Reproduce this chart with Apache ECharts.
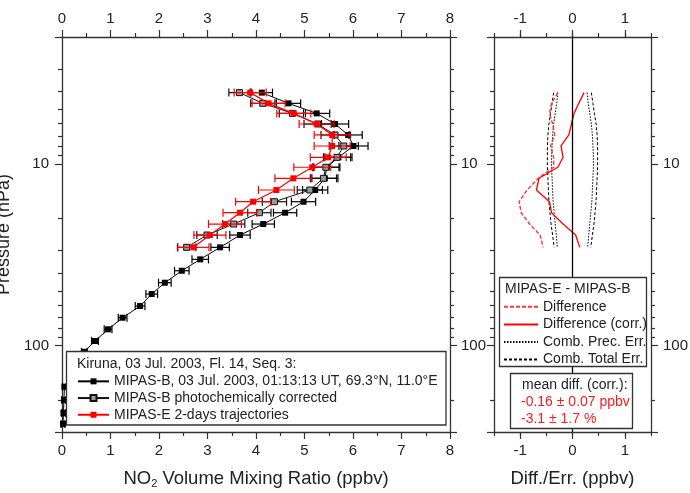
<!DOCTYPE html>
<html><head><meta charset="utf-8">
<script src="https://cdn.jsdelivr.net/npm/echarts@6/dist/echarts.min.js"></script>
<style>html,body{margin:0;padding:0;background:#fff}#c{width:690px;height:493px}</style>
</head><body><div id="c"></div>
<script>
// ---------- data ----------
// MIPAS-B levels (hPa) and NO2 VMR (ppbv)
const pressB = [4.05,4.64,5.27,6.03,6.93,7.97,9.20,10.44,12.01,13.93,16.16,18.58,21.45,24.66,28.83,33.57,38.79,45.15,52.12,60.69,70.41,81.55,94.6,108.4,125.1,145.7,168.9,200,235.9,271.2];
const vmrB   = [4.12,4.67,5.25,5.63,5.90,6.01,5.70,5.46,5.42,5.22,4.98,4.60,4.15,3.67,3.26,2.85,2.47,2.12,1.85,1.61,1.25,0.95,0.68,0.46,0.30,0.18,0.05,0.04,0.03,0.02];
const errB   = [0.22,0.25,0.27,0.28,0.29,0.30,0.28,0.27,0.27,0.26,0.25,0.24,0.23,0.21,0.19,0.17,0.15,0.13,0.12,0.10,0.09,0.08,0.07,0.06,0.05,0.05,0.04,0.04,0.04,0.04];
// common levels of corrected MIPAS-B / MIPAS-E (hPa)
const pressE = [4.05,4.64,5.27,6.03,6.93,7.97,9.20,10.44,12.01,13.93,16.16,18.58,21.45,24.66,28.83];
const vmrC   = [3.66,4.14,4.75,5.27,5.63,5.81,5.67,5.44,5.39,5.11,4.38,4.07,3.54,2.99,2.57];
const errC   = [0.22,0.25,0.27,0.28,0.29,0.30,0.28,0.27,0.27,0.26,0.25,0.24,0.23,0.21,0.19];
const vmrE   = [3.88,4.26,4.78,5.25,5.57,5.57,5.49,5.16,4.77,4.42,3.94,3.67,3.36,3.05,2.71];
const errE   = [0.33,0.34,0.35,0.36,0.37,0.37,0.37,0.38,0.38,0.37,0.36,0.35,0.34,0.33,0.32];
// right panel (ppbv)
const diffUnc  = [-0.28,-0.40,-0.44,-0.38,-0.34,-0.42,-0.36,-0.36,-0.65,-0.87,-1.02,-0.98,-0.82,-0.62,-0.56];
const diffCorr = [0.22,0.12,0.03,-0.02,-0.07,-0.22,-0.18,-0.28,-0.64,-0.69,-0.44,-0.40,-0.18,0.06,0.14];
const precErr  = [0.28,0.30,0.33,0.36,0.38,0.39,0.40,0.40,0.39,0.38,0.37,0.35,0.33,0.31,0.29];
const totErr   = [0.36,0.39,0.42,0.45,0.47,0.48,0.48,0.48,0.47,0.46,0.45,0.43,0.41,0.38,0.35];
// ticks
const yMajorLabels = [10, 100];
const yMinorTicks = [3,4,5,6,7,8,9,20,30,40,50,60,70,80,90,200];
const xDiffLabels = [-1, 0, 1];
const names = {
  B: 'MIPAS-B, 03 Jul. 2003, 01:13:13 UT, 69.3°N, 11.0°E',
  C: 'MIPAS-B photochemically corrected',
  E: 'MIPAS-E 2-days trajectories',
  d: 'Difference', dc: 'Difference (corr.)', pe: 'Comb. Prec. Err.', te: 'Comb. Total Err.'
};

// ---------- chart ----------
const FONT = 'Liberation Sans, Arial, sans-serif';
const AX = '#333';
const chart = echarts.init(document.getElementById('c'), null, {renderer: 'canvas'});

const pair = (xs, ps) => xs.map((v, i) => [v, ps[i]]);
const neg = a => a.map(v => -v);

function errSeries(vals, press, errs, color, z) {
  return {
    type: 'custom', xAxisIndex: 0, yAxisIndex: 0, silent: true, z: z, clip: false,
    data: vals.map((v, i) => [v, press[i], errs[i]]),
    encode: {x: 0, y: 1},
    renderItem: function (params, api) {
      const x = api.value(0), p = api.value(1), e = api.value(2);
      const a = api.coord([x - e, p]), b = api.coord([x + e, p]);
      const h = 4, st = {stroke: color, lineWidth: 1.2};
      return {type: 'group', children: [
        {type: 'line', shape: {x1: a[0], y1: a[1], x2: b[0], y2: b[1]}, style: st},
        {type: 'line', shape: {x1: a[0], y1: a[1] - h, x2: a[0], y2: a[1] + h}, style: st},
        {type: 'line', shape: {x1: b[0], y1: b[1] - h, x2: b[0], y2: b[1] + h}, style: st}
      ]};
    }
  };
}

const lbl = {fontFamily: FONT, fontSize: 15, color: '#222'};
const axLine = {show: true, onZero: false, lineStyle: {color: AX, width: 1.3}};
const noLine = {show: false, onZero: false};
const tickMaj = {show: true, length: 7, lineStyle: {color: AX, width: 1.2}};
const tickMin = {show: true, length: 4, lineStyle: {color: AX, width: 1.2}};
const logMin = Math.log10(2), logMax = Math.log10(300);

function xLeft(pos, extra) {
  return Object.assign({
    type: 'value', gridIndex: 0, position: pos, min: 0, max: 8, interval: 1,
    axisLine: axLine, axisTick: tickMaj,
    minorTick: {show: true, splitNumber: 2, length: 4, lineStyle: {color: AX, width: 1.2}},
    splitLine: {show: false},
    axisLabel: Object.assign({margin: 11}, lbl)
  }, extra || {});
}
function xRight(pos, extra) {
  return Object.assign({
    type: 'value', gridIndex: 1, position: pos, min: -1.5, max: 1.5, interval: 0.5,
    axisLine: axLine, axisTick: tickMin, splitLine: {show: false},
    axisLabel: Object.assign({margin: 11, formatter: v => xDiffLabels.indexOf(v) >= 0 ? String(v) : ''}, lbl)
  }, extra || {});
}
function xRightMaj(pos) {
  return {type: 'value', gridIndex: 1, position: pos, min: -1.5, max: 1.5,
    axisLine: noLine, splitLine: {show: false}, axisLabel: {show: false},
    axisTick: Object.assign({customValues: xDiffLabels}, tickMaj)};
}
function yLog(grid, pos, showLabel, margin, extra) {
  return Object.assign({
    type: 'log', logBase: 10, gridIndex: grid, position: pos, min: 2, max: 300, inverse: true,
    axisLine: axLine, axisTick: tickMaj, splitLine: {show: false}, minorTick: {show: false},
    axisLabel: Object.assign({show: showLabel, margin: margin,
      formatter: v => yMajorLabels.some(t => Math.abs(t - v) < 1e-6) ? String(v) : ''}, lbl)
  }, extra || {});
}
function yMinor(grid, pos) {
  return {type: 'value', gridIndex: grid, position: pos, min: logMin, max: logMax, inverse: true,
    axisLine: noLine, splitLine: {show: false}, axisLabel: {show: false},
    axisTick: Object.assign({customValues: yMinorTicks.map(v => Math.log10(v))}, tickMin)};
}

const option = {
  animation: false,
  backgroundColor: '#fff',
  grid: [
    {left: 62, top: 37, width: 388, height: 395, outerBoundsMode: 'none'},
    {left: 494, top: 37, width: 157, height: 395, outerBoundsMode: 'none'}
  ],
  xAxis: [
    xLeft('bottom', {name: '{n|NO}{s|2}{n| Volume Mixing Ratio (ppbv)}', nameLocation: 'middle', nameGap: 37,
      nameTextStyle: {rich: {n: {fontFamily: FONT, fontSize: 18.5, color: '#222'}, s: {fontFamily: FONT, fontSize: 11, color: '#222', padding: [9, 0, 0, 0]}}}}),
    xLeft('top'),
    xRight('bottom', {name: 'Diff./Err. (ppbv)', nameLocation: 'middle', nameGap: 37,
      nameTextStyle: {fontFamily: FONT, fontSize: 18.5, color: '#222'}}),
    xRight('top'),
    xRightMaj('bottom'),
    xRightMaj('top')
  ],
  yAxis: [
    yLog(0, 'left', true, 13, {name: 'Pressure (hPa)', nameLocation: 'middle', nameGap: 37, nameRotate: 90,
      nameTextStyle: {fontFamily: FONT, fontSize: 18, color: '#222'}}),
    yLog(0, 'right', true, 11),
    yLog(1, 'left', false, 12),
    yLog(1, 'right', true, 12),
    yMinor(0, 'left'), yMinor(0, 'right'), yMinor(1, 'left'), yMinor(1, 'right')
  ],
  legend: [
    {left: 77, top: 373, orient: 'vertical', padding: 0, itemGap: 0, itemWidth: 31, itemHeight: 7.5,
     selectedMode: false, z: 30,
     textStyle: {fontFamily: FONT, fontSize: 14, color: '#222', lineHeight: 16.7},
     data: [names.B, names.C, names.E]},
    {left: 503, top: 298, orient: 'vertical', padding: 0, itemGap: 0, itemWidth: 34, itemHeight: 8,
     selectedMode: false, z: 30,
     textStyle: {fontFamily: FONT, fontSize: 14, color: '#222', lineHeight: 17.6},
     data: [
       {name: names.d, itemStyle: {opacity: 0}},
       {name: names.dc, itemStyle: {opacity: 0}},
       {name: names.pe, itemStyle: {opacity: 0}},
       {name: names.te, itemStyle: {opacity: 0}}
     ]}
  ],
  graphic: [
    {type: 'rect', z: 20, shape: {x: 66.5, y: 351.5, width: 379.5, height: 73.5}, style: {fill: '#fff', stroke: AX, lineWidth: 1.3}},
    {type: 'text', z: 31, x: 77, y: 364, style: {text: 'Kiruna, 03 Jul. 2003, Fl. 14, Seq. 3:', font: '14px ' + FONT, fill: '#222', verticalAlign: 'middle'}},
    {type: 'rect', z: 20, shape: {x: 499.5, y: 277.5, width: 147, height: 89}, style: {fill: '#fff', stroke: AX, lineWidth: 1.3}},
    {type: 'text', z: 31, x: 505, y: 289, style: {text: 'MIPAS-E - MIPAS-B', font: '14px ' + FONT, fill: '#222', verticalAlign: 'middle'}},
    {type: 'rect', z: 20, shape: {x: 510.5, y: 373.5, width: 122, height: 55}, style: {fill: '#fff', stroke: AX, lineWidth: 1.3}},
    {type: 'text', z: 31, x: 522, y: 385, style: {text: 'mean diff. (corr.):', font: '14px ' + FONT, fill: '#222', verticalAlign: 'middle'}},
    {type: 'text', z: 31, x: 521, y: 402, style: {text: '-0.16 ± 0.07 ppbv', font: '14px ' + FONT, fill: '#ff1a1a', verticalAlign: 'middle'}},
    {type: 'text', z: 31, x: 521, y: 419, style: {text: '-3.1 ± 1.7 %', font: '14px ' + FONT, fill: '#ff1a1a', verticalAlign: 'middle'}}
  ],
  series: [
    errSeries(vmrB, pressB, errB, '#000', 3),
    {type: 'line', name: names.B, xAxisIndex: 0, yAxisIndex: 0, data: pair(vmrB, pressB), z: 4,
     symbol: 'rect', symbolSize: 6, itemStyle: {color: '#000'}, lineStyle: {color: '#000', width: 1}},
    errSeries(vmrC, pressE, errC, '#111', 5),
    {type: 'line', name: names.C, xAxisIndex: 0, yAxisIndex: 0, data: pair(vmrC, pressE), z: 6,
     symbol: 'rect', symbolSize: 6, itemStyle: {color: '#9a9a9a', borderColor: '#111', borderWidth: 1}, lineStyle: {color: '#111', width: 1}},
    errSeries(vmrE, pressE, errE, '#ff0000', 7),
    {type: 'line', name: names.E, xAxisIndex: 0, yAxisIndex: 0, data: pair(vmrE, pressE), z: 8,
     symbol: 'rect', symbolSize: 6, itemStyle: {color: '#ff0000'}, lineStyle: {color: '#ff0000', width: 1.2}},

    {type: 'line', name: names.pe, xAxisIndex: 2, yAxisIndex: 2, data: pair(precErr, pressE), symbol: 'none',
     lineStyle: {color: '#000', width: 1, type: [1.5, 1.5]}},
    {type: 'line', name: names.pe, xAxisIndex: 2, yAxisIndex: 2, data: pair(neg(precErr), pressE), symbol: 'none',
     lineStyle: {color: '#000', width: 1, type: [1.5, 1.5]}},
    {type: 'line', name: names.te, xAxisIndex: 2, yAxisIndex: 2, data: pair(totErr, pressE), symbol: 'none',
     lineStyle: {color: '#000', width: 1, type: [3, 2]}},
    {type: 'line', name: names.te, xAxisIndex: 2, yAxisIndex: 2, data: pair(neg(totErr), pressE), symbol: 'none',
     lineStyle: {color: '#000', width: 1, type: [3, 2]}},
    {type: 'line', name: names.d, xAxisIndex: 2, yAxisIndex: 2, data: pair(diffUnc, pressE), symbol: 'none',
     lineStyle: {color: '#ff3333', width: 1.4, type: [4, 2]}},
    {type: 'line', name: names.dc, xAxisIndex: 2, yAxisIndex: 2, data: pair(diffCorr, pressE), symbol: 'none',
     lineStyle: {color: '#ff0000', width: 1.3},
     markLine: {silent: true, symbol: ['none', 'none'], label: {show: false},
       lineStyle: {color: '#000', type: 'solid', width: 1.3}, data: [{xAxis: 0}]}}
  ]
};
chart.setOption(option);
</script>
</body></html>
